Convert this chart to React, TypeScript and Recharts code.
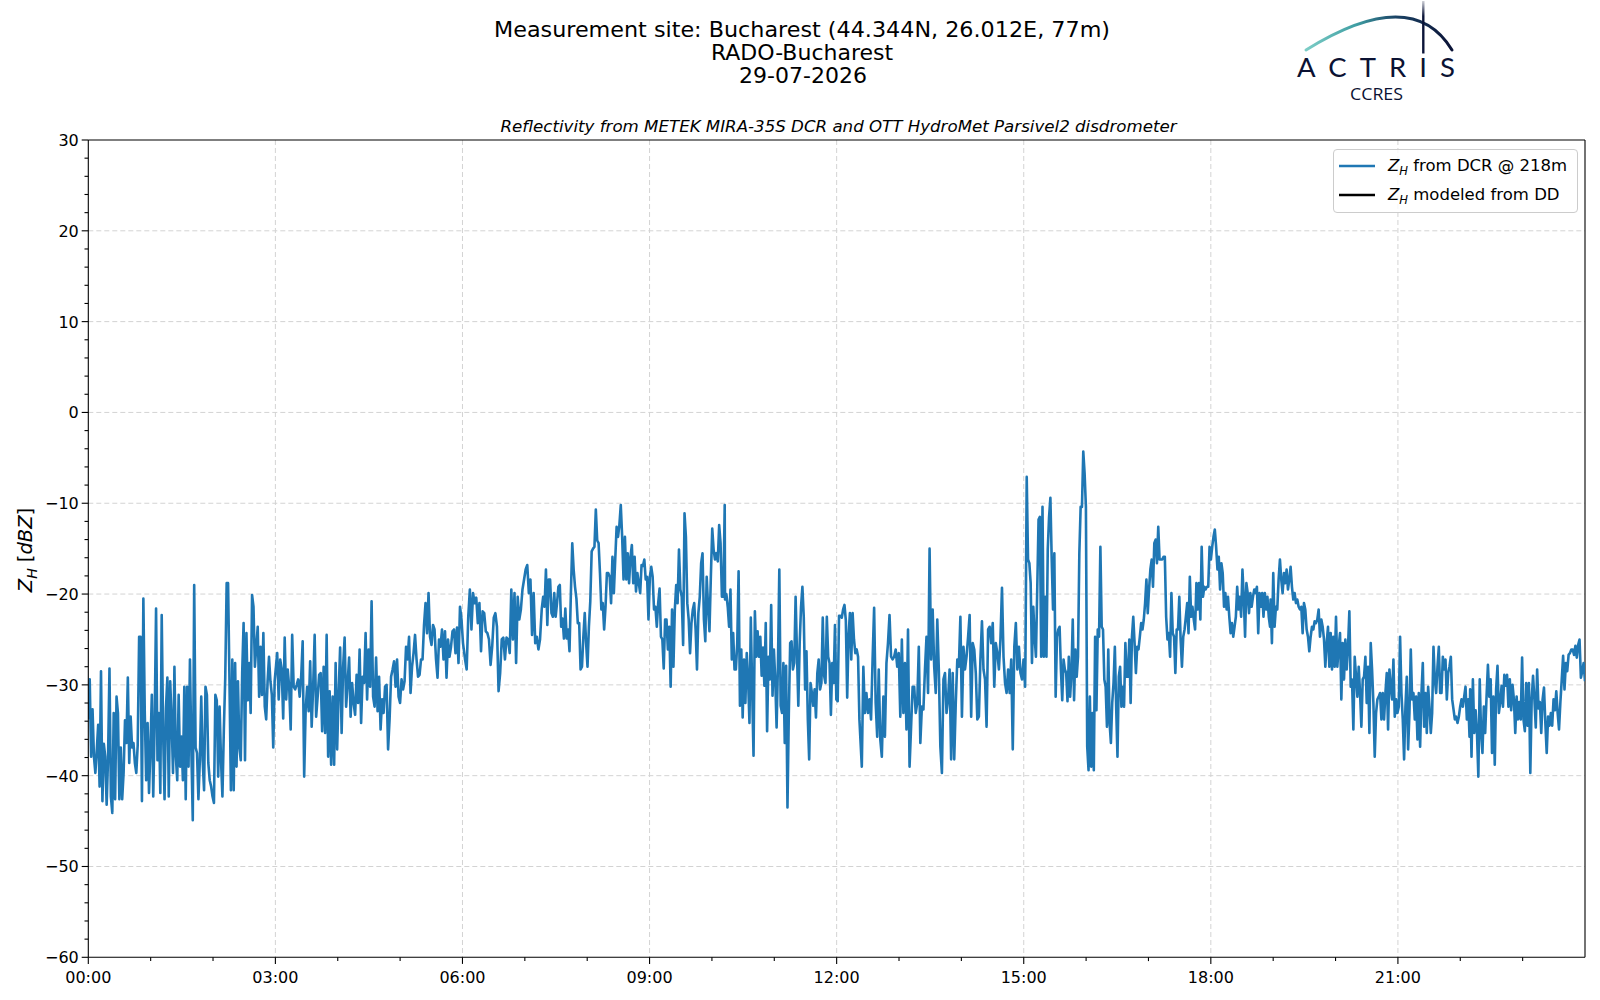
import React from 'react';
import { LineChart, Line, XAxis, YAxis, CartesianGrid, Legend, ReferenceLine } from 'recharts';

// ---- Data: Z_H [dBZ], chunk by chunk (left to right) ----
const zA = [-33.8, -29.4, -37.9, -32.7, -37.9, -39.7, -37.2, -34.4, -41.2, -28.5, -42.8, -36.5, -37.9, -43.2, -38, -28.2, -42.3, -44.1, -33.1, -42.6, -31.3, -33.1, -42.6, -36.9, -42.6, -39.7, -33.9, -36.4, -29.2, -38.6, -33.5, -36.9, -36.4, -38.6, -39.7, -36.6, -24.7, -24.7, -42.8, -20.5, -33.1, -40.5, -34.2, -41.9, -36.9, -31.1, -42.3, -34.2, -21.6, -38.3, -33.1, -41.9, -22.3, -35.3, -42.6, -32.6, -29.2, -42.3, -29.6, -33.8, -39.7, -28.0, -37.9, -40.5, -31.1, -39.0, -35.7, -40.5, -30.2, -42.6, -30.2, -39.0, -27.2, -37.2, -44.9, -19.0, -36.9, -37.5, -42.6, -38.3, -31.3, -38.3, -41.6, -30.2, -31.1, -38.6, -40.5, -41.2, -42.3, -43.0, -31.1, -31.7, -40.1, -32.4, -38.3, -42.3, -35.0, -29.2, -18.8, -18.8, -29.6, -41.6, -27.2, -41.6, -27.6, -39.0, -29.6, -36.9, -38.3, -28.7, -23.2, -38.3, -24.3, -31.7, -27.6, -33.1, -20.1, -21.4, -28.0, -25.8, -23.6, -31.3, -25.8, -31.1, -24.3, -32.4, -33.8, -29.6, -26.9, -29.6, -31.1, -36.9, -29.6];
const zB = [-28.3, -26.5, -31.6, -27.2, -28.3, -33.7, -24.8, -31.6, -28.3, -30.2, -34.9, -24.5, -30.2, -30.5, -30.0, -29.4, -31.3, -29.1, -25.2, -40.1, -32.7, -30.2, -32.9, -27.4, -34.6, -30.2, -24.5, -33.5, -31.3, -28.9, -28.7, -35.1, -28.0, -35.3, -24.5, -37.9, -30.7, -38.8, -31.3, -38.8, -27.6, -37.1, -30.9, -25.9, -35.3, -28.0, -24.8, -32.4, -29.8, -27.0, -33.5, -29.8, -32.0, -33.3, -28.9, -32.0, -26.1, -34.2, -29.1, -29.8, -24.3, -31.6, -26.1, -30.2, -20.8, -31.3, -32.4, -27.0, -32.9, -29.1, -34.9, -31.6, -33.1, -30.2, -30.0, -37.1, -33.8, -29.1, -28.3, -27.4, -30.2, -27.2, -31.3, -32.0, -29.4, -30.5, -29.6, -25.8, -27.2, -24.7, -30.9, -28.0, -26.5, -24.5, -27.2, -29.1, -28.9, -27.2, -27.2, -23.4, -21.0, -24.3, -19.9, -24.7, -25.6, -23.4, -23.9, -27.2, -29.2, -25.0, -25.8, -23.9, -27.2, -24.1, -29.2, -25.0, -26.9, -25.8, -24.1, -23.9, -26.5, -23.7, -27.6, -21.4, -22.8, -25.4];
const zC = [-27.2, -28.3, -22.5, -19.5, -23.9, -19.9, -21.0, -20.4, -23.2, -21.0, -26.3, -21.9, -22.1, -24.1, -24.3, -25.0, -27.8, -25.8, -22.6, -22.1, -23.6, -30.7, -28.7, -25.0, -24.8, -27.2, -24.8, -25.0, -26.5, -19.5, -25.0, -19.9, -27.6, -20.3, -22.8, -21.7, -19.5, -18.4, -17.3, -16.8, -19.9, -18.4, -24.5, -19.9, -25.4, -24.7, -26.1, -25.0];
const zD = [-21.6, -20.3, -21.4, -17.3, -23.4, -18.4, -18.4, -22.1, -22.5, -19.9, -22.5, -21.0, -19.2, -19.0, -23.6, -22.7, -24.9, -21.6, -24.9, -23.9, -26.3, -19.9, -14.4, -17.3, -19.2, -20.5, -23.2, -23.2, -28.3, -28.0, -24.7, -22.1, -25.4, -28.0, -23.6, -20.8, -15.3, -15.0, -14.8, -10.7, -14.1, -14.4, -17.7, -21.7, -21.0, -23.9, -21.4, -17.7, -17.7, -18.1, -21.0, -15.9, -19.9, -16.2, -12.6, -13.7, -12.4, -10.2, -13.7, -18.4, -13.7, -18.4, -15.5, -18.8, -15.9, -14.6, -18.8, -15.9, -19.7, -17.7, -18.8, -19.9, -16.8, -16.9, -16.2, -18.4, -18.1, -22.8, -18.1, -17.0, -18.1, -21.7, -21.4, -23.6, -21.0, -19.4, -24.7, -25.0, -28.2, -22.8, -22.8, -26.1, -23.6, -30.2, -21.7, -28.0, -21.7, -19.0, -21.0, -15.1, -19.5, -20.3, -25.6, -11.1, -13.7, -21.0, -22.8, -26.5, -23.2, -21.7, -21.0, -23.9, -28.3, -22.1, -20.3, -16.6, -15.5, -22.8, -25.2, -18.1, -21.4, -24.1, -18.1, -12.8, -15.1, -16.2, -15.5, -16.4, -12.4, -14.4, -20.3, -20.3, -10.2];
const zE = [-20.6, -20.0, -21.4, -23.6, -19.5, -27.2, -24.3, -28.3, -28.3, -25.4, -17.5, -32.3, -26.1, -33.6, -27.2, -32.0, -26.5, -29.4, -34.2, -22.6, -30.5, -37.8, -21.9, -26.9, -24.1, -26.9, -24.7, -29.0, -25.9, -30.1, -23.2, -35.1, -26.9, -29.4, -21.2, -31.2, -26.1, -29.4, -34.7, -27.6, -17.3, -32.3, -33.1, -27.6, -36.4, -27.9, -43.5, -33.1, -25.4, -25.2, -28.3, -27.6, -20.3, -26.5, -32.3, -25.4, -21.4, -19.2, -22.5, -30.5, -26.3, -33.8, -38.2, -29.8, -30.9, -32.3, -30.5, -33.6, -28.7, -27.2, -30.5, -29.8, -22.6, -29.0, -29.8, -22.5, -26.9, -27.6, -33.3, -27.6, -29.8, -23.4, -31.6, -31.8, -22.4, -22.4, -22.6, -21.7, -21.2, -22.9, -31.4, -24.6, -22.1, -27.2, -22.1, -25.0, -26.5, -26.1, -26.9, -33.8];
const zF = [-39.0, -28.0, -33.1, -30.9, -33.1, -31.6, -33.8, -27.2, -21.5, -32.0, -35.7, -28.3, -36.0, -37.9, -31.3, -35.7, -27.6, -25.4, -22.3, -26.9, -27.2, -26.9, -26.1, -28.0, -26.5, -33.5, -25.0, -33.1, -27.6, -34.9, -23.9, -39.0, -34.6, -30.2, -30.2, -33.1, -32.0, -25.8, -36.4, -32.4, -32.7, -28.3, -24.7, -30.9, -15.0, -27.2, -21.7, -28.0, -30.9, -22.8, -28.3, -36.8, -39.7, -29.4, -28.7, -33.1, -31.6, -28.3, -38.2, -28.7, -38.2, -32.0, -27.2, -28.0, -22.5, -33.5, -25.8, -28.3, -26.9, -24.7, -22.3, -33.5, -25.4, -26.1, -28.7, -33.8, -33.5, -27.2, -23.0, -28.3, -29.4, -34.6, -23.9, -23.6, -25.4, -23.2, -30.2, -25.4, -26.5, -28.3, -25.0, -19.3, -26.9, -29.8, -30.9, -28.3, -30.9, -27.2, -37.1, -25.8, -23.2, -28.3, -25.8, -28.7, -29.4, -27.2, -30.2];
const zG = [-27.6, -7.1, -16.2, -16.6, -18.8, -27.6, -21.4, -24.7, -26.9, -19.5, -11.8, -11.5, -26.9, -10.4, -26.9, -20.3, -26.9, -15.1, -11.5, -9.4, -16.2, -21.7, -15.5, -31.3, -24.7, -23.9, -23.6, -28.3, -31.7, -27.2, -28.3, -28.7, -31.8, -26.9, -31.3, -28.7, -22.8, -31.7, -26.1, -29.1, -26.9, -15.5, -10.4, -10.4, -4.3, -6.7, -10.4, -36.8, -39.4, -31.3, -39.0, -33.1, -39.4, -24.7, -32.8, -23.9, -24.7, -14.8, -23.6, -23.9, -29.4, -30.2, -34.6, -26.1, -34.2, -36.4, -32.0, -29.8, -25.8, -32.4, -37.9, -29.1, -28.0, -32.4, -30.2, -32.4, -25.4, -29.1, -29.1, -25.0, -32.0, -24.7, -22.5, -25.4, -28.7, -25.8, -26.1, -24.7, -23.2, -23.9, -22.8, -21.0, -18.4, -22.1, -19.5, -17.3, -16.2, -19.2, -14.4, -14.0, -16.6, -12.6, -16.2, -16.2, -16.2, -15.9, -15.9, -22.5, -25.0, -24.3, -26.9, -19.9, -24.3, -24.7, -28.7, -23.9, -23.9, -20.3, -25.0, -28.0, -24.7, -23.9, -22.5, -21.0, -24.3, -18.1, -22.5, -21.4, -22.8, -23.9, -18.8, -21.7, -18.8, -22.8, -14.8, -20.3, -19.2, -19.5, -19.2, -19.2, -14.8, -16.2, -14.8, -13.7, -12.9, -14.8, -17.3, -15.9, -19.5, -16.6, -17.7, -21.4, -19.9, -21.7, -20.3, -22.5, -24.3, -23.2, -24.7, -23.6, -22.5, -19.2, -21.7, -20.3, -22.5, -17.3, -20.3, -24.7, -18.8, -19.9, -22.1, -19.9, -21.4, -20.3, -19.5, -19.9, -19.2, -24.3, -19.9, -21.4, -19.9, -22.5, -19.9, -21.7, -20.3, -22.5, -23.6];
const zH = [-20.6, -25.4, -17.7, -23.6, -21.4, -21.7, -18.4, -16.2, -18.4, -19.9, -17.7, -18.8, -17.3, -19.5, -18.4, -17.0, -19.2, -20.6, -19.9, -21.0, -20.6, -21.4, -21.7, -21.4, -24.3, -21.0, -21.7, -23.9, -24.7, -26.3, -24.7, -23.6, -23.9, -23.0, -23.2, -22.8, -21.7, -24.7, -22.8, -23.6, -25.0, -28.0, -25.4, -23.6, -28.0, -24.3, -28.3, -24.7, -28.0, -22.5, -28.0, -25.8, -24.3, -31.6, -25.4, -29.4, -25.0, -28.3, -25.8, -21.9, -30.2, -29.4, -34.9, -26.9, -29.1, -31.3, -28.0, -30.9, -34.6, -29.4, -29.1, -26.9, -32.0, -28.0, -35.3, -25.4, -28.3, -32.0, -37.9, -33.1, -31.6, -31.3, -30.9, -33.8, -30.9, -33.8, -30.9, -28.7, -34.9, -28.3, -30.2, -31.6, -27.2, -33.5, -31.6, -33.1, -32.4, -24.7, -30.9, -33.8, -38.2, -32.4, -29.1, -37.1, -33.1, -26.1, -31.6, -30.9, -33.8, -31.3, -36.0, -30.9, -36.8, -30.9, -27.6, -34.6, -30.9, -35.3, -30.2, -32.4, -35.3, -33.1, -25.8, -29.4, -30.9, -28.0, -25.8, -30.9, -30.9, -26.9, -28.3, -27.2, -31.6, -28.7, -28.0, -26.9, -31.6, -32.7, -33.8, -33.5, -34.2, -33.5, -32.4, -31.6, -32.4, -31.3, -30.2, -33.8, -31.6, -35.7];
const zI = [-30.5, -37.9, -29.4, -35.3, -32.8, -35.3, -40.1, -29.4, -35.3, -37.5, -32.4, -35.3, -31.3, -27.8, -31.3, -29.4, -37.5, -31.3, -38.8, -30.5, -27.9, -33.1, -31.9, -30.1, -32.4, -28.9, -30.1, -28.9, -32.4, -29.4, -32.8, -30.0, -31.6, -35.3, -31.3, -33.8, -31.9, -33.8, -27.0, -33.8, -35.1, -29.8, -34.5, -29.8, -39.7, -31.6, -29.0, -31.6, -34.7, -28.3, -32.6, -31.9, -35.3, -31.6, -30.3, -34.2, -37.5, -33.5, -34.5, -33.1, -34.5, -31.6, -32.8, -30.7, -33.1, -34.9, -31.9, -29.4, -26.8, -30.5, -27.6, -28.5, -26.7, -26.5, -26.1, -26.1, -26.7, -25.7, -27.0, -25.6, -25.0, -29.2, -28.5, -27.6, -29.6];

// Reading windows of each chunk (minutes after 00:00 UTC)
const chunkStart = [0, 180.3, 362.5, 436.3, 612.6, 744.2, 901.6, 1137.5, 1329.5];
const chunkEnd = [179.3, 360.5, 434.6, 612.3, 741.9, 901.3, 1137.0, 1328.9, 1440];
const chunkValues = [zA, zB, zC, zD, zE, zF, zG, zH, zI];

// Modeled Z_H from the disdrometer: no samples on this day
const ddValues: (number | null)[] = [];

// Axis ticks
const xTicks = [0, 60, 120, 180, 240, 300, 360, 420, 480, 540, 600, 660, 720, 780, 840, 900, 960, 1020, 1080, 1140, 1200, 1260, 1320, 1380];
const xGridValues = [180, 360, 540, 720, 900, 1080, 1260];
const yTicks = [-60, -58, -56, -54, -52, -50, -48, -46, -44, -42, -40, -38, -36, -34, -32, -30, -28, -26, -24, -22, -20, -18, -16, -14, -12, -10, -8, -6, -4, -2, 0, 2, 4, 6, 8, 10, 12, 14, 16, 18, 20, 22, 24, 26, 28, 30];
const yGridValues = [-50, -40, -30, -20, -10, 0, 10, 20];
const xMax = 1440;
const yMax = 30;

const titleLines = ['Measurement site: Bucharest (44.344N, 26.012E, 77m)', 'RADO-Bucharest', '29-07-2026'];
const subtitle = 'Reflectivity from METEK MIRA-35S DCR and OTT HydroMet Parsivel2 disdrometer';
const seriesNames = ['Z_H from DCR @ 218m', 'Z_H modeled from DD'];

const rows: { t: number; z: number; dd: number | null }[] = [];
let idx = 0;
chunkValues.forEach((vals, k) => {
  const s = chunkStart[k];
  const e = chunkEnd[k];
  vals.forEach((v, j) => {
    rows.push({ t: s + (j * (e - s)) / (vals.length - 1), z: v, dd: ddValues[idx] ?? null });
    idx++;
  });
});

const FONT = "'DejaVu Sans', 'Liberation Sans', sans-serif";

const fmtTime = (m: number) => {
  const h = Math.floor(m / 60);
  const mm = Math.round(m - h * 60);
  return `${String(h).padStart(2, '0')}:${String(mm).padStart(2, '0')}`;
};
const fmtY = (v: number) => (v < 0 ? `\u2212${Math.abs(v)}` : `${v}`);

const XTick = (props: any) => {
  const { x, y, payload } = props;
  const v = payload.value as number;
  const major = v % 180 === 0;
  return (
    <g>
      <line x1={x} x2={x} y1={y} y2={y + (major ? 6.6 : 3.8)} stroke="#000" strokeWidth={1.1} />
      {major && (
        <text x={x} y={y + 25.5} textAnchor="middle" fontSize={16} fontFamily={FONT} fill="#000">
          {fmtTime(v)}
        </text>
      )}
    </g>
  );
};

const YTick = (props: any) => {
  const { x, y, payload } = props;
  const v = payload.value as number;
  const major = v % 10 === 0;
  return (
    <g>
      <line x1={x - (major ? 6.6 : 3.8)} x2={x} y1={y} y2={y} stroke="#000" strokeWidth={1.1} />
      {major && (
        <text x={x - 9.5} y={y + 5.9} textAnchor="end" fontSize={16} fontFamily={FONT} fill="#000">
          {fmtY(v)}
        </text>
      )}
    </g>
  );
};

const ZLabel = ({ text, size }: { text: string; size: number }) => {
  if (text.startsWith('Z_H')) {
    return (
      <span>
        <span style={{ fontStyle: 'italic' }}>Z</span>
        <span style={{ fontStyle: 'italic', fontSize: size * 0.7, position: 'relative', top: size * 0.22 }}>H</span>
        <span>{text.slice(3)}</span>
      </span>
    );
  }
  return <span>{text}</span>;
};

const renderLegend = (props: any) => {
  const payload = (props && props.payload) || [];
  return (
    <div
      style={{
        width: 245,
        height: 64,
        boxSizing: 'border-box',
        border: '1px solid #cccccc',
        borderRadius: 4,
        background: 'rgba(255,255,255,0.8)',
        fontFamily: FONT,
        fontSize: 16.5,
        color: '#000',
        position: 'relative',
      }}
    >
      {payload.map((p: any, i: number) => (
        <div key={i} style={{ position: 'absolute', left: 5, top: 1 + i * 29, height: 29, display: 'flex', alignItems: 'center', whiteSpace: 'nowrap' }}>
          <svg width={36} height={6} style={{ marginRight: 13 }}>
            <line x1={0} x2={36} y1={3} y2={3} stroke={p.color} strokeWidth={2.4} />
          </svg>
          <ZLabel text={String(p.value)} size={16.5} />
        </div>
      ))}
    </div>
  );
};

const Overlay = () => (
  <svg width={1600} height={1000} style={{ position: 'absolute', left: 0, top: 0, pointerEvents: 'none' }}>
    <defs>
      <linearGradient id="arcGrad" gradientUnits="userSpaceOnUse" x1={1306} y1={0} x2={1450} y2={0}>
        <stop offset="0%" stopColor="#7ccdc6" />
        <stop offset="35%" stopColor="#3f9ea3" />
        <stop offset="62%" stopColor="#1b4466" />
        <stop offset="100%" stopColor="#0b1438" />
      </linearGradient>
      <linearGradient id="mastGrad" gradientUnits="userSpaceOnUse" x1={0} y1={0} x2={0} y2={54}>
        <stop offset="0%" stopColor="#0b1438" stopOpacity={0.15} />
        <stop offset="30%" stopColor="#0b1438" stopOpacity={1} />
        <stop offset="100%" stopColor="#0b1438" stopOpacity={1} />
      </linearGradient>
    </defs>
    {/* Title */}
    <text x={802} y={36.5} textAnchor="middle" fontSize={22} fontFamily={FONT} fill="#000" textLength={616} lengthAdjust="spacingAndGlyphs">
      {titleLines[0]}
    </text>
    <text x={802} y={59.5} textAnchor="middle" fontSize={22} fontFamily={FONT} fill="#000">
      {titleLines[1]}
    </text>
    <text x={803} y={82.5} textAnchor="middle" fontSize={22} fontFamily={FONT} fill="#000">
      {titleLines[2]}
    </text>
    {/* Axes title */}
    <text x={838.5} y={131.5} textAnchor="middle" fontSize={16} fontStyle="italic" fontFamily={FONT} fill="#000" textLength={676} lengthAdjust="spacingAndGlyphs">
      {subtitle}
    </text>
    {/* Y label */}
    <text transform="translate(32,550) rotate(-90)" textAnchor="middle" fontSize={19.5} fontFamily={FONT} fill="#000">
      <tspan fontStyle="italic">Z</tspan>
      <tspan fontStyle="italic" fontSize={14} dy={4.5}>H</tspan>
      <tspan dy={-4.5}>{' ['}</tspan>
      <tspan fontStyle="italic">dBZ</tspan>
      <tspan>]</tspan>
    </text>
    {/* Logo */}
    <path d="M 1306 50 Q 1412 -16 1452 50" fill="none" stroke="url(#arcGrad)" strokeWidth={3} strokeLinecap="round" />
    <line x1={1423.3} x2={1423.3} y1={1} y2={53.5} stroke="url(#mastGrad)" strokeWidth={2.4} />
    <text x={1297} y={77} fontSize={27.5} fontFamily="Lato, 'Open Sans', sans-serif" fill="#0b1233" textLength={158} lengthAdjust="spacing">
      ACTRIS
    </text>
    <text x={1350} y={100} fontSize={17} fontFamily="'Open Sans', Lato, sans-serif" fill="#0b1233" textLength={53} lengthAdjust="spacingAndGlyphs">
      CCRES
    </text>
  </svg>
);

export default function App() {
  return (
    <div style={{ position: 'absolute', left: 0, top: 0, width: 1600, height: 1000, background: '#fff', overflow: 'hidden' }}>
      <LineChart width={1600} height={1000} data={rows} margin={{ top: 140, right: 15, bottom: 2.7, left: 28.3 }}>
        <CartesianGrid
          stroke="#d3d3d3"
          strokeDasharray="5 3"
          strokeWidth={1}
          verticalValues={xGridValues}
          horizontalValues={yGridValues}
        />
        <XAxis
          dataKey="t"
          type="number"
          domain={[0, xMax]}
          ticks={xTicks}
          interval={0}
          tickSize={0}
          tickMargin={0}
          tickLine={false}
          tick={<XTick />}
          height={40}
          axisLine={{ stroke: '#000', strokeWidth: 1.1 }}
          allowDataOverflow
        />
        <YAxis
          type="number"
          domain={[-60, yMax]}
          ticks={yTicks}
          interval={0}
          tickSize={0}
          tickMargin={0}
          tickLine={false}
          tick={<YTick />}
          width={60}
          axisLine={{ stroke: '#000', strokeWidth: 1.1 }}
          allowDataOverflow
        />
        <ReferenceLine y={yMax} stroke="#000" strokeWidth={1.1} ifOverflow="extendDomain" />
        <ReferenceLine x={xMax} stroke="#000" strokeWidth={1.1} ifOverflow="extendDomain" />
        <Line
          type="linear"
          dataKey="z"
          name={seriesNames[0]}
          stroke="#1f77b4"
          strokeWidth={2.6}
          strokeLinejoin="round"
          dot={false}
          activeDot={false}
          isAnimationActive={false}
        />
        <Line
          type="linear"
          dataKey="dd"
          name={seriesNames[1]}
          stroke="#000000"
          strokeWidth={2.4}
          dot={false}
          activeDot={false}
          isAnimationActive={false}
        />
        <Legend
          layout="horizontal"
          verticalAlign="middle"
          align="center"
          content={renderLegend}
          wrapperStyle={{ left: 1333, top: 149, width: 245, height: 64, right: 'auto', bottom: 'auto' }}
        />
      </LineChart>
      <Overlay />
    </div>
  );
}
